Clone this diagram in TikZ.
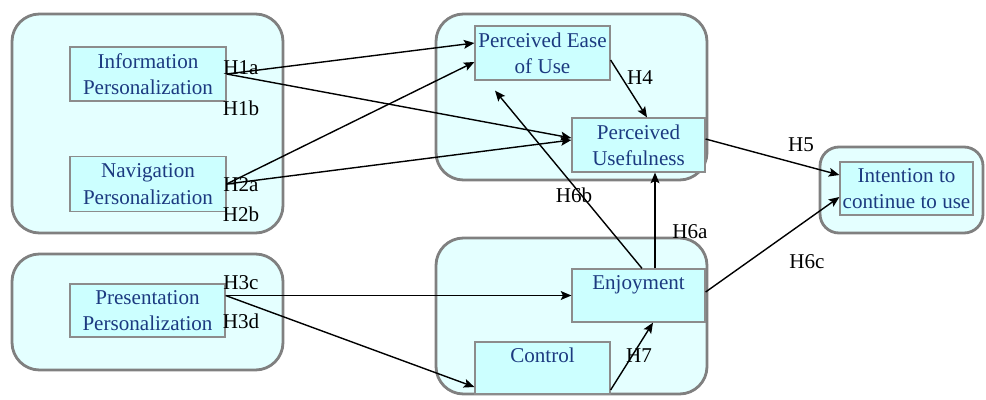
\documentclass[tikz,border=0pt]{standalone}
\usepackage{fontspec}
\setmainfont{Liberation Serif}
\usetikzlibrary{arrows.meta}
\definecolor{grpfill}{RGB}{228,255,255}
\definecolor{boxfill}{RGB}{204,255,255}
\definecolor{boxtext}{RGB}{28,58,128}
\tikzset{
  grp/.style={draw=black!50, line width=1.6pt, fill=grpfill, rounded corners=0.55cm},
  box/.style={draw=black!45, line width=0.7pt, fill=boxfill, text=boxtext, align=center,
    inner sep=0pt, font=\fontsize{12}{15}\selectfont},
  hyp/.style={font=\fontsize{12}{14}\selectfont, inner sep=0pt},
  link/.style={line width=0.8pt, -{Stealth[length=6pt,width=5pt,inset=1.2pt]}}
}

\begin{document}
\begin{tikzpicture}[x=0.02cm, y=-0.02cm]
			%%%%% START %%%%%
			\useasboundingbox (0,0) rectangle (986,399);
			
			\draw[grp] (12,14) rectangle (283,233);
			\draw[grp] (12,254) rectangle (283,370);
			\draw[grp] (436,14) rectangle (707,180);
			\draw[grp] (436,238) rectangle (707,394);
			\draw[grp, rounded corners=0.38cm] (820,147) rectangle (983,233);
			
			\node[box, minimum width=3.12cm, minimum height=1.08cm] (info) at (148,74) {Information\\Personalization};
			\node[box, minimum width=3.12cm, minimum height=1.1cm] (nav) at (148,184) {Navigation\\Personalization};
			\node[box, minimum width=3.1cm, minimum height=1.06cm] (pres) at (147.5,310.5) {Presentation\\Personalization};
			
			\node[box, minimum width=2.7cm, minimum height=1.08cm] (peou) at (542.5,53) {Perceived Ease\\of Use};
			\node[box, minimum width=2.66cm, minimum height=1.08cm] (pu) at (638.5,145) {Perceived\\Usefulness};
			\node[box, minimum width=2.66cm, minimum height=1.06cm] (enjoy) at (638.5,295.5) {Enjoyment\\\phantom{E}};
			\node[box, minimum width=2.7cm, minimum height=1.04cm] (control) at (542.5,368) {Control\\\phantom{C}};
			
			\node[box, minimum width=2.66cm, minimum height=1.06cm] (intent) at (906.5,188.5) {Intention to\\continue to use};
			
			\draw[link] (info.east) -- ([yshift=0.2cm]peou.west);
			\draw[link] (info.east) -- ([yshift=0.14cm]pu.west);
			\draw[link] (nav.east) -- ([yshift=-0.18cm]peou.west);
			\draw[link] (nav.east) -- ([yshift=0.1cm]pu.west);
			\draw[link] (pres.east |- enjoy.west) -- (enjoy.west);
			\draw[link] (pres.east |- enjoy.west) -- ([yshift=-0.38cm]control.west);
			
			\draw[link] ([yshift=-0.14cm]peou.east) -- ([xshift=0.17cm]pu.north);
			\draw[link] ([yshift=0.12cm]pu.east) -- ([yshift=0.27cm]intent.west);
			\draw[link] ([yshift=0.07cm]enjoy.east) -- ([yshift=-0.17cm]intent.west);
			\draw[link] ([xshift=0.33cm]enjoy.north) -- ([xshift=0.33cm]pu.south);
			\draw[link] ([xshift=0.07cm]enjoy.north) -- ([xshift=-0.95cm,yshift=-0.2cm]peou.south);
			\draw[link] ([yshift=-0.44cm]control.east) -- ([xshift=0.29cm]enjoy.south);
			
			\node[hyp] (h1a) at (241,68) {H1a};
			\node[hyp] (h1b) at (241,108) {H1b};
			\node[hyp] (h2a) at (241,185) {H2a};
			\node[hyp] (h2b) at (241,214) {H2b};
			\node[hyp] (h3c) at (241,283) {H3c};
			\node[hyp] (h3d) at (241,321) {H3d};
			\node[hyp] (h4) at (640,78) {H4};
			\node[hyp] (h5) at (801,145) {H5};
			\node[hyp] (h6a) at (690,232) {H6a};
			\node[hyp] (h6b) at (574,195) {H6b};
			\node[hyp] (h6c) at (807,262) {H6c};
			\node[hyp] (h7) at (639,356) {H7};
			
			%%%%% END %%%%%
		\end{tikzpicture}
\end{document}
